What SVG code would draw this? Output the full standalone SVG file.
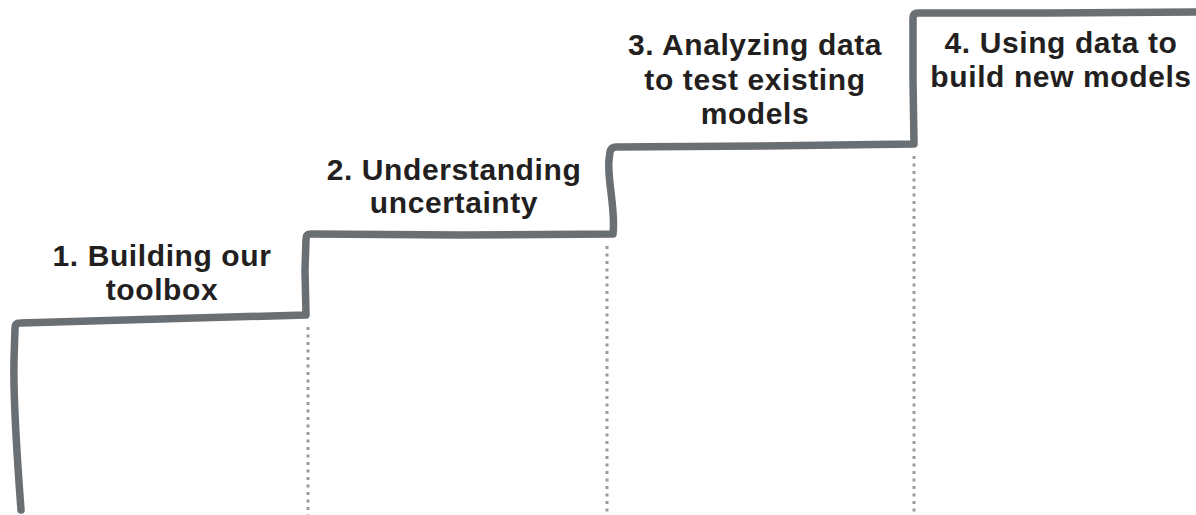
<svg xmlns="http://www.w3.org/2000/svg" width="1196" height="515" viewBox="0 0 1196 515">
<style>
.stair{fill:none;stroke:#6a6f74;stroke-width:7.5;stroke-linecap:round;stroke-linejoin:round}
.dot{fill:none;stroke:#9c9c9c;stroke-width:3;stroke-dasharray:3 4.5}
.lbl{font-family:"Liberation Sans",Arial,sans-serif;font-weight:bold;font-size:30px;letter-spacing:0.6px;fill:#231f20;text-anchor:middle}
</style>
<rect width="1196" height="515" fill="#ffffff"/>
<g id="connectors">
<path class="stair" d="M21 510 C18 470 13 400 14 360 L15 328 Q15 323 20 323 L160 319 L306 315 L305 270 L306 239 Q306 234 311 234 L460 235 L613 234 C616 210 607 180 609 160 L610 152 Q611 147 616 147 L760 146 L914 144 L913 80 L913 18 Q913 13 918 13 L1050 13 L1196 12"/>
<line class="dot" x1="308" y1="327" x2="308" y2="515"/>
<line class="dot" x1="607" y1="246" x2="607" y2="515"/>
<line class="dot" x1="914" y1="156" x2="914" y2="515"/>
</g>
<g id="step1"><text class="lbl" x="162" y="266">1. Building our</text><text class="lbl" x="162" y="300">toolbox</text></g>
<g id="step2"><text class="lbl" x="454" y="180">2. Understanding</text><text class="lbl" x="454" y="213">uncertainty</text></g>
<g id="step3"><text class="lbl" x="755" y="55">3. Analyzing data</text><text class="lbl" x="755" y="90">to test existing</text><text class="lbl" x="755" y="124">models</text></g>
<g id="step4"><text class="lbl" x="1061" y="53">4. Using data to</text><text class="lbl" x="1061" y="87">build new models</text></g>
</svg>
